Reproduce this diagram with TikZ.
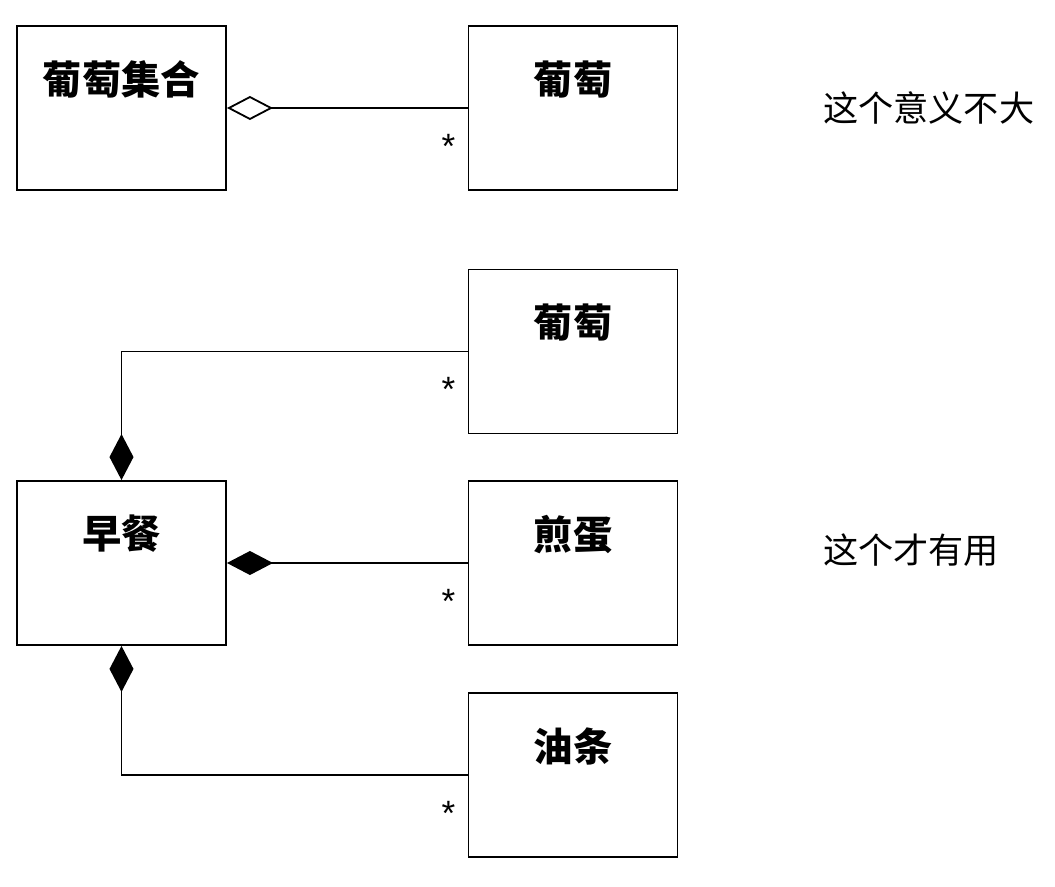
\documentclass[tikz,border=0pt]{standalone}
\usepackage{fontspec}
\newfontfamily\cjk{Noto Sans CJK SC}
\newfontfamily\starfont{Liberation Sans}
\usetikzlibrary{positioning}
\usetikzlibrary{arrows.meta}
\tikzset{
    classbox/.style = {rectangle, draw=black, line width=1.3pt, minimum width=5.225cm, minimum height=4.1cm, inner sep=0pt},
    boxtitle/.style = {anchor=center, yshift=-1.35cm, font=\cjk\bfseries\fontsize{28}{30}\selectfont},
    note/.style = {anchor=west, inner sep=0pt, font=\cjk\fontsize{25}{28}\selectfont},
    mult/.style = {anchor=center, inner sep=0pt, xshift=-0.475cm, yshift=-0.95cm, font=\starfont\fontsize{25}{28}\selectfont},
    edgeagg/.style = {line width=1.3pt, -{Diamond[open, length=1.15cm, width=0.6cm]}}, % shared
    edgecmp/.style = {line width=1.3pt, -{Diamond[length=1.15cm, width=0.6cm]}}, % owned
}

\begin{document}
\begin{tikzpicture}[x=0.025cm, y=-0.025cm]
\useasboundingbox (0, 0) rectangle (1055, 887);
%
\node[classbox, label={[boxtitle]north:葡萄集合}] at (121.5, 108) (set) {};
\node[classbox, label={[boxtitle]north:葡萄}] at (573, 108) (grapea) {};
\node[note] at (823, 108) (useless) {这个意义不大};
%
\node[classbox, label={[boxtitle]north:葡萄}] at (573, 351.5) (grapeb) {};
\node[classbox, label={[boxtitle]north:早餐}] at (121.5, 563) (meal) {};
\node[classbox, label={[boxtitle]north:煎蛋}] at (573, 563) (egg) {};
\node[classbox, label={[boxtitle]north:油条}] at (573, 775) (fritter) {};
\node[note] at (823, 550) (useful) {这个才有用};
%
\draw[edgeagg] (grapea.west) node[mult] {*} -- (set.east);
\draw[edgecmp] (grapeb.west) node[mult] {*} -| (meal.north);
\draw[edgecmp] (egg.west) node[mult] {*} -- (meal.east);
\draw[edgecmp] (fritter.west) node[mult] {*} -| (meal.south);

\end{tikzpicture}
\end{document}
